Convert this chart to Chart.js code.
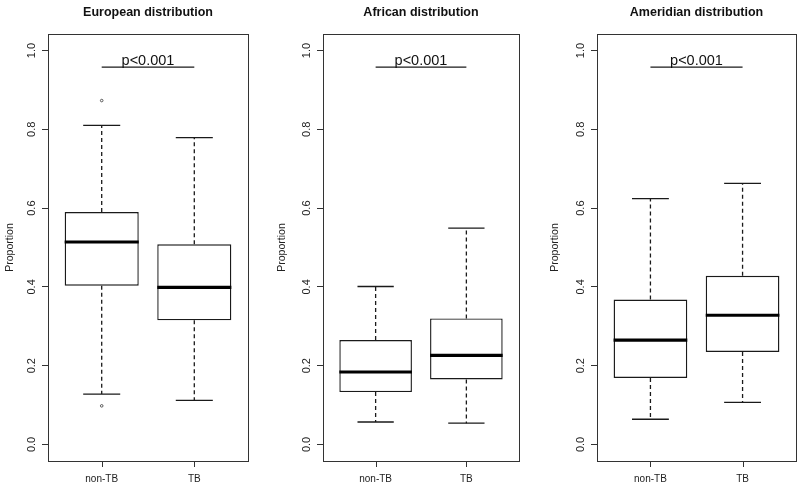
<!DOCTYPE html>
<html>
<head>
<meta charset="utf-8">
<script src="https://cdn.jsdelivr.net/npm/chart.js@4.4.1/dist/chart.umd.min.js"></script>
<style>
  html, body { margin: 0; padding: 0; background: #fff; }
  #wrap { position: relative; width: 800px; height: 485px; overflow: hidden; background: #fff; }
  canvas { position: absolute; top: 0; }
</style>
</head>
<body>
<div id="wrap">
  <canvas id="c1" width="262" height="485" style="left:0px"></canvas>
  <canvas id="c2" width="262" height="485" style="left:270px"></canvas>
  <canvas id="c3" width="255" height="485" style="left:545px"></canvas>
</div>
<script>
// ---------------- data ----------------
const categories = ['non-TB', 'TB'];
const panelTitles = ['European distribution', 'African distribution', 'Ameridian distribution'];
const yTickValues = [0.0, 0.2, 0.4, 0.6, 0.8, 1.0];
const yTickLabels = ['0.0', '0.2', '0.4', '0.6', '0.8', '1.0'];
const yAxisLabel = 'Proportion';
const pText = 'p<0.001';
const pLevel = 0.958;

const euroMin = [0.128, 0.112];
const euroQ1  = [0.403, 0.315];
const euroMed = [0.514, 0.399];
const euroQ3  = [0.590, 0.508];
const euroMax = [0.810, 0.779];
const euroOutliers = [[0.873, 0.098], []];

const afrMin = [0.057, 0.054];
const afrQ1  = [0.133, 0.165];
const afrMed = [0.184, 0.226];
const afrQ3  = [0.265, 0.320];
const afrMax = [0.401, 0.549];
const afrOutliers = [[], []];

const amerMin = [0.064, 0.107];
const amerQ1  = [0.169, 0.235];
const amerMed = [0.265, 0.328];
const amerQ3  = [0.368, 0.428];
const amerMax = [0.624, 0.663];
const amerOutliers = [[], []];

const panels = [
  { id: 'c1', title: panelTitles[0], min: euroMin, q1: euroQ1, med: euroMed, q3: euroQ3, max: euroMax, out: euroOutliers, axisW: 48, rightPad: 14, titlePad: 3.7 },
  { id: 'c2', title: panelTitles[1], min: afrMin,  q1: afrQ1,  med: afrMed,  q3: afrQ3,  max: afrMax,  out: afrOutliers,  axisW: 53, rightPad: 13, titlePad: 5.4 },
  { id: 'c3', title: panelTitles[2], min: amerMin, q1: amerQ1, med: amerMed, q3: amerQ3, max: amerMax, out: amerOutliers, axisW: 52, rightPad: 4,  titlePad: 3.7 }
];

const FONT = '"Liberation Sans", Arial, Helvetica, sans-serif';
const INK = '#1a1a1a';

const boxExtras = {
  id: 'boxExtras',
  afterDatasetsDraw(chart) {
    const p = chart.options.plugins.boxExtras;
    const { ctx, chartArea: a } = chart;
    const x = chart.scales.x, y = chart.scales.y;
    ctx.save();
    // plot frame
    ctx.strokeStyle = '#333';
    ctx.lineWidth = 1;
    ctx.strokeRect(Math.round(a.left) + 0.5, Math.round(a.top) + 0.5,
                   Math.round(a.right - a.left), Math.round(a.bottom - a.top));
    // x tick marks at category positions
    ctx.beginPath();
    for (let i = 0; i < categories.length; i++) {
      const tx = Math.round(x.getPixelForValue(i + 1)) + 0.5;
      ctx.moveTo(tx, Math.round(a.bottom));
      ctx.lineTo(tx, Math.round(a.bottom) + 6);
    }
    ctx.stroke();
    // whiskers, staples, medians
    for (let i = 0; i < categories.length; i++) {
      const pos = i + 1;
      const cx = x.getPixelForValue(pos);
      const bl = x.getPixelForValue(pos - 0.4), br = x.getPixelForValue(pos + 0.4);
      const sl = x.getPixelForValue(pos - 0.2), sr = x.getPixelForValue(pos + 0.2);
      ctx.strokeStyle = INK;
      ctx.lineWidth = 1.3;
      ctx.setLineDash([4, 3]);
      ctx.beginPath();
      ctx.moveTo(cx, y.getPixelForValue(p.q3[i]));
      ctx.lineTo(cx, y.getPixelForValue(p.max[i]));
      ctx.moveTo(cx, y.getPixelForValue(p.q1[i]));
      ctx.lineTo(cx, y.getPixelForValue(p.min[i]));
      ctx.stroke();
      ctx.setLineDash([]);
      ctx.beginPath();
      ctx.moveTo(sl, y.getPixelForValue(p.max[i]));
      ctx.lineTo(sr, y.getPixelForValue(p.max[i]));
      ctx.moveTo(sl, y.getPixelForValue(p.min[i]));
      ctx.lineTo(sr, y.getPixelForValue(p.min[i]));
      ctx.stroke();
      ctx.lineWidth = 3.2;
      ctx.strokeStyle = '#000';
      ctx.beginPath();
      ctx.moveTo(bl, y.getPixelForValue(p.med[i]));
      ctx.lineTo(br, y.getPixelForValue(p.med[i]));
      ctx.stroke();
    }
    // significance bar
    const py = y.getPixelForValue(pLevel);
    ctx.strokeStyle = INK;
    ctx.lineWidth = 1.3;
    ctx.beginPath();
    ctx.moveTo(x.getPixelForValue(1), py);
    ctx.lineTo(x.getPixelForValue(2), py);
    ctx.stroke();
    ctx.fillStyle = '#111';
    ctx.font = '14.5px ' + FONT;
    ctx.textAlign = 'center';
    ctx.textBaseline = 'alphabetic';
    ctx.fillText(pText, x.getPixelForValue(1.5), py - 2);
    // rotated y tick labels
    ctx.font = '11px ' + FONT;
    ctx.fillStyle = '#222';
    ctx.textBaseline = 'middle';
    for (let k = 0; k < yTickValues.length; k++) {
      ctx.save();
      ctx.translate(a.left - 16.5, y.getPixelForValue(yTickValues[k]));
      ctx.rotate(-Math.PI / 2);
      ctx.fillText(yTickLabels[k], 0, 0);
      ctx.restore();
    }
    ctx.restore();
  }
};

panels.forEach(pn => {
  const boxes = categories.map((c, i) => ({ x: i + 1, y: [pn.q1[i], pn.q3[i]] }));
  const outPts = [];
  pn.out.forEach((arr, i) => arr.forEach(v => outPts.push({ x: i + 1, y: v })));
  new Chart(document.getElementById(pn.id), {
    type: 'bar',
    data: {
      datasets: [
        {
          type: 'bar',
          data: boxes,
          backgroundColor: '#fff',
          borderColor: INK,
          borderWidth: 1.4,
          borderSkipped: false,
          barPercentage: 1,
          categoryPercentage: 0.8
        },
        {
          type: 'scatter',
          data: outPts,
          pointRadius: 1.3,
          pointBorderWidth: 1,
          pointBorderColor: '#555',
          pointBackgroundColor: 'rgba(0,0,0,0)',
          showLine: false
        }
      ]
    },
    options: {
      responsive: false,
      animation: false,
      devicePixelRatio: 1,
      layout: { padding: { left: 0, right: pn.rightPad, top: 0, bottom: 0 } },
      plugins: {
        legend: { display: false },
        tooltip: { enabled: false },
        title: {
          display: true,
          text: pn.title,
          fullSize: false,
          color: '#111',
          font: { family: FONT, size: 12.5, weight: 'bold' },
          padding: { top: 5, bottom: 14 }
        },
        boxExtras: pn
      },
      scales: {
        x: {
          type: 'linear',
          min: 0.42,
          max: 2.58,
          offset: false,
          afterBuildTicks: s => { s.ticks = categories.map((c, i) => ({ value: i + 1 })); },
          afterFit: s => { s.height = 24; },
          ticks: {
            autoSkip: false,
            maxRotation: 0,
            color: '#222',
            font: { family: FONT, size: 10 },
            padding: 12,
            callback: v => categories[v - 1]
          },
          grid: { display: false, offset: false, drawOnChartArea: false, drawTicks: false },
          border: { display: false }
        },
        y: {
          type: 'linear',
          min: -0.042,
          max: 1.042,
          afterBuildTicks: s => { s.ticks = yTickValues.map(v => ({ value: v })); },
          afterFit: s => { s.width = pn.axisW; },
          ticks: { display: false },
          grid: { drawOnChartArea: false, drawTicks: true, tickLength: 6, tickColor: '#333', tickWidth: 1 },
          border: { display: false },
          title: {
            display: true,
            text: yAxisLabel,
            color: '#222',
            font: { family: FONT, size: 10.5 },
            padding: { top: pn.titlePad, bottom: 0 }
          }
        }
      }
    },
    plugins: [boxExtras]
  });
});
</script>
</body>
</html>
